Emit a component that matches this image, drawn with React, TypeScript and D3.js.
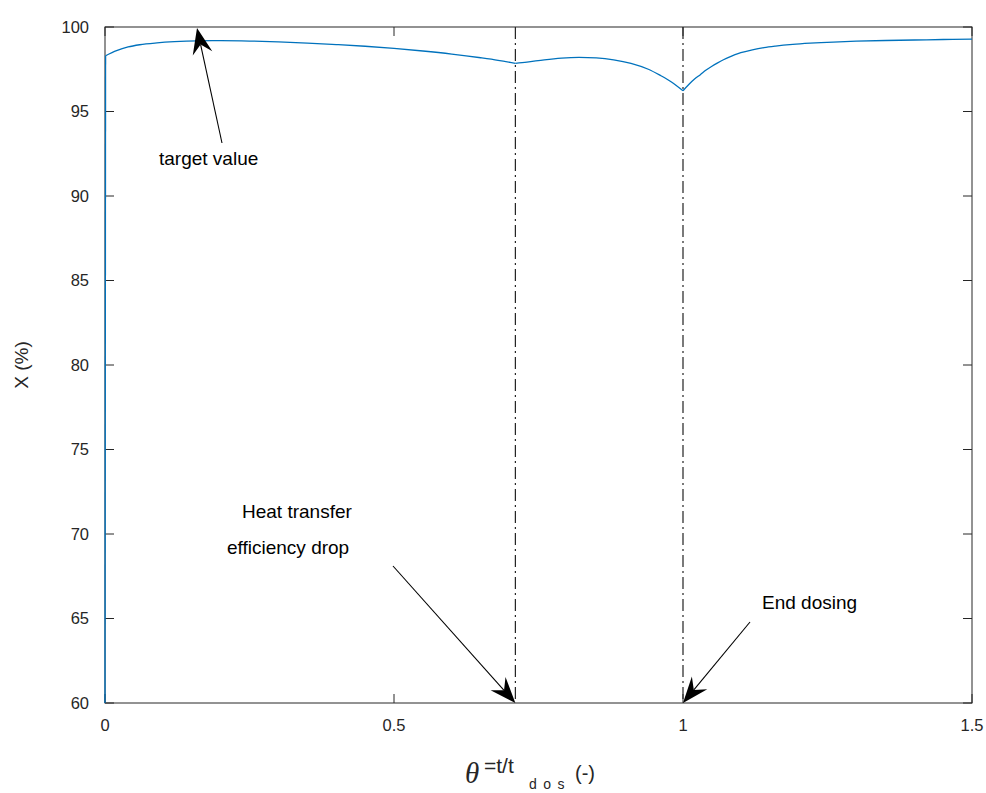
import React from "react";
import * as d3 from "d3";

const thetaValues = [0, 0.001, 0.02, 0.04, 0.06, 0.09, 0.12, 0.16, 0.2, 0.25, 0.3, 0.35, 0.4, 0.45, 0.5, 0.55, 0.6, 0.65, 0.68, 0.71, 0.73, 0.76, 0.79, 0.82, 0.85, 0.88, 0.91, 0.94, 0.96, 0.98, 1.0, 1.01, 1.02, 1.03, 1.04, 1.05, 1.06, 1.07, 1.08, 1.09, 1.1, 1.12, 1.14, 1.16, 1.19, 1.22, 1.26, 1.3, 1.35, 1.4, 1.45, 1.5];
const conversionValues = [60, 98.3, 98.6, 98.82, 98.95, 99.06, 99.13, 99.18, 99.19, 99.17, 99.12, 99.05, 98.96, 98.86, 98.73, 98.58, 98.4, 98.18, 98.03, 97.85, 97.92, 98.06, 98.16, 98.2, 98.17, 98.06, 97.85, 97.5, 97.15, 96.75, 96.23, 96.6, 96.92, 97.18, 97.45, 97.68, 97.88, 98.06, 98.22, 98.36, 98.48, 98.65, 98.78, 98.87, 98.97, 99.04, 99.11, 99.16, 99.2, 99.23, 99.26, 99.28];
const xTicks = [0, 0.5, 1, 1.5];
const xTickLabels = ["0", "0.5", "1", "1.5"];
const yTicks = [60, 65, 70, 75, 80, 85, 90, 95, 100];
const markerLines = [0.71, 1.0];
const cuspThetas = [0.001, 0.71, 1.0];

const W = 986, H = 793;
const M = { left: 105, right: 972, top: 27, bottom: 703 };
const font = "'Liberation Sans', Arial, Helvetica, sans-serif";
const axisColor = "#262626";

function Arrow({ x1, y1, x2, y2 }: { x1: number; y1: number; x2: number; y2: number }) {
  const dx = x2 - x1, dy = y2 - y1;
  const len = Math.hypot(dx, dy);
  const ux = dx / len, uy = dy / len;
  const px = -uy, py = ux;
  const L = 26, hw = 10, notch = 17;
  const bx = x2 - ux * L, by = y2 - uy * L;
  const nx = x2 - ux * notch, ny = y2 - uy * notch;
  const pts = [
    [x2, y2],
    [bx + px * hw, by + py * hw],
    [nx, ny],
    [bx - px * hw, by - py * hw],
  ];
  return (
    <g>
      <line x1={x1} y1={y1} x2={nx} y2={ny} stroke="#000" strokeWidth={1.1} />
      <polygon points={pts.map((p) => p.join(",")).join(" ")} fill="#000" />
    </g>
  );
}

export default function App() {
  const x = d3.scaleLinear().domain([0, 1.5]).range([M.left, M.right]);
  const y = d3.scaleLinear().domain([60, 100]).range([M.bottom, M.top]);
  const data = thetaValues.map((t, i) => [t, conversionValues[i]] as [number, number]);
  const smooth = d3.line<[number, number]>().x((d) => x(d[0])).y((d) => y(d[1])).curve(d3.curveMonotoneX);
  const straight = d3.line<[number, number]>().x((d) => x(d[0])).y((d) => y(d[1]));
  const segs: [number, number][][] = [];
  segs.push(data.filter((d) => d[0] <= cuspThetas[0]));
  for (let i = 0; i < cuspThetas.length; i++) {
    const lo = cuspThetas[i];
    const hi = i + 1 < cuspThetas.length ? cuspThetas[i + 1] : Infinity;
    segs.push(data.filter((d) => d[0] >= lo && d[0] <= hi));
  }
  const tl = 9;

  return (
    <svg width={W} height={H} style={{ position: "absolute", left: 0, top: 0, background: "#fff" }}>
      <rect x={0} y={0} width={W} height={H} fill="#fff" />
      {markerLines.map((m) => (
        <line key={m} x1={x(m)} x2={x(m)} y1={M.top} y2={M.bottom} stroke="#222" strokeWidth={1.2} strokeDasharray="12,4,2,4" />
      ))}
      <rect x={M.left} y={M.top} width={M.right - M.left} height={M.bottom - M.top} fill="none" stroke={axisColor} strokeWidth={1} />
      {xTicks.map((t, i) => (
        <g key={"x" + t}>
          <line x1={x(t)} x2={x(t)} y1={M.bottom} y2={M.bottom - tl} stroke={axisColor} />
          <line x1={x(t)} x2={x(t)} y1={M.top} y2={M.top + tl} stroke={axisColor} />
          <text x={x(t)} y={731} textAnchor="middle" fontFamily={font} fontSize={16.5} fill={axisColor}>{xTickLabels[i]}</text>
        </g>
      ))}
      {yTicks.map((t) => (
        <g key={"y" + t}>
          <line x1={M.left} x2={M.left + tl} y1={y(t)} y2={y(t)} stroke={axisColor} />
          <line x1={M.right} x2={M.right - tl} y1={y(t)} y2={y(t)} stroke={axisColor} />
          <text x={89} y={y(t) + 5.5} textAnchor="end" fontFamily={font} fontSize={16.5} fill={axisColor}>{t}</text>
        </g>
      ))}
      {segs.map((s, i) => (
        <path key={i} d={(i === 0 ? straight(s) : smooth(s)) || ""} fill="none" stroke="#0072BD" strokeWidth={1.3} />
      ))}
      <text transform={`translate(28,${(M.top + M.bottom) / 2}) rotate(-90)`} textAnchor="middle" fontFamily={font} fontSize={19} fill={axisColor}>X (%)</text>
      <text x={465} y={783} fontFamily="'Liberation Serif', 'DejaVu Serif', serif" fontStyle="italic" fontSize={29} fill={axisColor}>θ</text>
      <text x={484} y={773} fontFamily={font} fontSize={21} fill={axisColor}>=t/t</text>
      <text x={529} y={789} fontFamily={font} fontSize={14} letterSpacing={6.5} fill={axisColor}>dos</text>
      <text x={575} y={780} fontFamily={font} fontSize={20} fill={axisColor}>(-)</text>
      <Arrow x1={222} y1={143} x2={197} y2={28} />
      <text x={159} y={165} fontFamily={font} fontSize={19} fill="#000">target value</text>
      <text x={242} y={518} fontFamily={font} fontSize={19} fill="#000">Heat transfer</text>
      <text x={227} y={554} fontFamily={font} fontSize={19} fill="#000">efficiency drop</text>
      <Arrow x1={393} y1={566} x2={x(0.71)} y2={M.bottom} />
      <text x={762} y={609} fontFamily={font} fontSize={19} fill="#000">End dosing</text>
      <Arrow x1={750} y1={622} x2={x(1.0)} y2={M.bottom} />
    </svg>
  );
}
